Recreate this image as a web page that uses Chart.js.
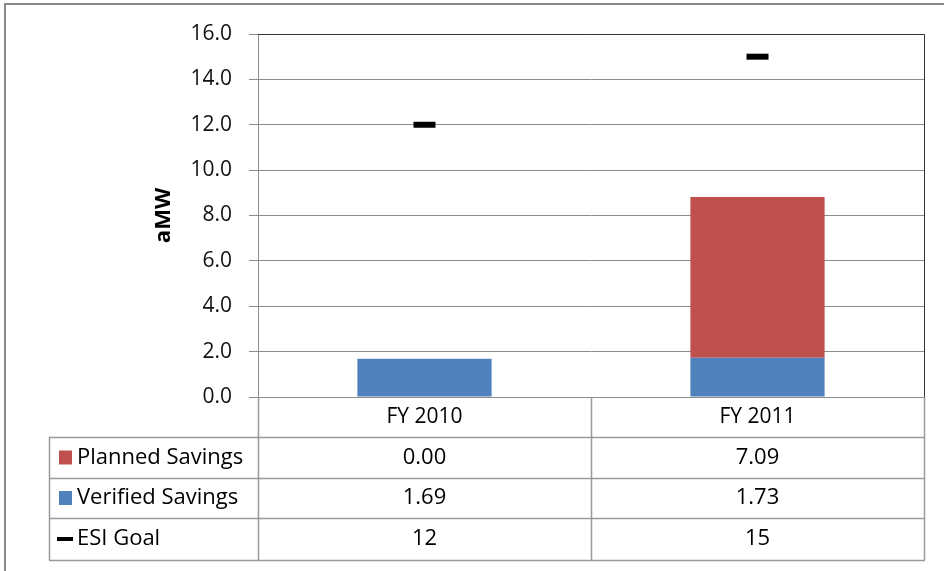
<!DOCTYPE html>
<html>
<head>
<meta charset="utf-8">
<script src="https://cdn.jsdelivr.net/npm/chart.js@4/dist/chart.umd.min.js"></script>
<style>
  html, body { margin: 0; padding: 0; background: #fff; }
  #wrap { width: 944px; height: 571px; }
</style>
</head>
<body>
<div id="wrap"><canvas id="myChart" width="944" height="571"></canvas></div>
<script>
var years = ["FY 2010", "FY 2011"];
var planned = [0.00, 7.09];
var verified = [1.69, 1.73];
var goal = [12, 15];
var yTicks = [0, 2, 4, 6, 8, 10, 12, 14, 16];

var FONT = "'Open Sans', sans-serif";
var gridColor = "#8c8c8c";
var tableColor = "#9a9a9a";

// data table under the plot, built from the same arrays
var tablePlugin = {
    id: "dataTable",
    beforeDraw: function (chart) {
        var ctx = chart.ctx;
        ctx.save();
        ctx.fillStyle = "#fff";
        ctx.fillRect(0, 0, chart.width, chart.height);
        // outer frame
        ctx.strokeStyle = "#8a8a8a";
        ctx.lineWidth = 2;
        ctx.beginPath();
        ctx.moveTo(5, chart.height);
        ctx.lineTo(5, 4);
        ctx.lineTo(chart.width, 4);
        ctx.stroke();
        ctx.restore();
    },
    afterDraw: function (chart) {
        var ctx = chart.ctx;
        var area = chart.chartArea;
        var xs = chart.scales.x;
        var left = area.left, right = area.right, bottom = area.bottom;
        var mid = (xs.getPixelForValue(0) + xs.getPixelForValue(1)) / 2;
        var rows = [437, 478, 518, 560];
        var tableLeft = 49;

        ctx.save();
        // plot border top/right
        ctx.strokeStyle = "#333";
        ctx.lineWidth = 1;
        ctx.beginPath();
        ctx.moveTo(left, area.top + 0.5);
        ctx.lineTo(right + 0.5, area.top + 0.5);
        ctx.lineTo(right + 0.5, bottom);
        ctx.stroke();

        ctx.strokeStyle = tableColor;
        ctx.lineWidth = 1.5;
        ctx.beginPath();
        [left, mid, right].forEach(function (x) {
            ctx.moveTo(Math.round(x) + 0.5, bottom);
            ctx.lineTo(Math.round(x) + 0.5, rows[3]);
        });
        ctx.moveTo(tableLeft + 0.5, rows[0]);
        ctx.lineTo(tableLeft + 0.5, rows[3]);
        rows.forEach(function (y) {
            ctx.moveTo(tableLeft, y + 0.5);
            ctx.lineTo(right + 1, y + 0.5);
        });
        ctx.stroke();

        ctx.fillStyle = "#000";
        ctx.font = "21px " + FONT;
        ctx.textAlign = "center";
        ctx.textBaseline = "middle";
        years.forEach(function (y, i) {
            ctx.fillText(y, xs.getPixelForValue(i), (bottom + rows[0]) / 2);
        });
        ctx.font = "22px " + FONT;
        var series = [
            { name: "Planned Savings", vals: planned.map(function (v) { return v.toFixed(2); }), color: "#C0504D", kind: "box" },
            { name: "Verified Savings", vals: verified.map(function (v) { return v.toFixed(2); }), color: "#4F81BD", kind: "box" },
            { name: "ESI Goal", vals: goal.map(String), color: "#000", kind: "line" }
        ];
        series.forEach(function (s, r) {
            var cy = (rows[r] + rows[r + 1]) / 2;
            if (s.kind === "box") {
                ctx.fillStyle = s.color;
                ctx.fillRect(59, cy - 7, 13, 14);
            } else {
                ctx.fillStyle = s.color;
                ctx.fillRect(57, cy - 2, 16, 4);
            }
            ctx.fillStyle = "#000";
            ctx.textAlign = "left";
            ctx.fillText(s.name, 77, cy);
            ctx.textAlign = "center";
            s.vals.forEach(function (v, i) {
                ctx.fillText(v, xs.getPixelForValue(i), cy);
            });
        });
        ctx.restore();
    }
};

new Chart("myChart", {
    type: "bar",
    data: {
        labels: years,
        datasets: [
            {
                type: "line",
                label: "ESI Goal",
                data: goal,
                showLine: false,
                pointStyle: "line",
                pointRadius: 11,
                pointHoverRadius: 11,
                pointBorderWidth: 6,
                borderColor: "#000",
                backgroundColor: "#000",
                order: 0
            },
            {
                label: "Verified Savings",
                data: verified,
                backgroundColor: "#4F81BD",
                stack: "s",
                order: 1
            },
            {
                label: "Planned Savings",
                data: planned,
                backgroundColor: "#C0504D",
                stack: "s",
                order: 2
            }
        ]
    },
    options: {
        responsive: false,
        animation: false,
        layout: { padding: { left: 149, right: 20, top: 34, bottom: 174 } },
        datasets: { bar: { categoryPercentage: 1, barPercentage: 0.403 } },
        plugins: {
            legend: { display: false },
            tooltip: { enabled: false }
        },
        scales: {
            x: {
                display: false,
                stacked: true,
                offset: true
            },
            y: {
                stacked: true,
                min: 0,
                max: 16,
                afterFit: function (scale) { scale.width = 109; },
                afterBuildTicks: function (scale) {
                    scale.ticks = yTicks.map(function (v) { return { value: v }; });
                },
                ticks: {
                    padding: 17,
                    color: "#111",
                    font: { family: FONT, size: 21 },
                    callback: function (v) { return Number(v).toFixed(1); }
                },
                grid: { color: gridColor, tickLength: 9, tickColor: gridColor },
                border: { display: true, color: gridColor },
                title: {
                    display: true,
                    text: "aMW",
                    color: "#000",
                    padding: { top: 2, bottom: 0 },
                    font: { family: FONT, size: 22, weight: "bold" }
                }
            }
        }
    },
    plugins: [tablePlugin]
});
</script>
</body>
</html>
